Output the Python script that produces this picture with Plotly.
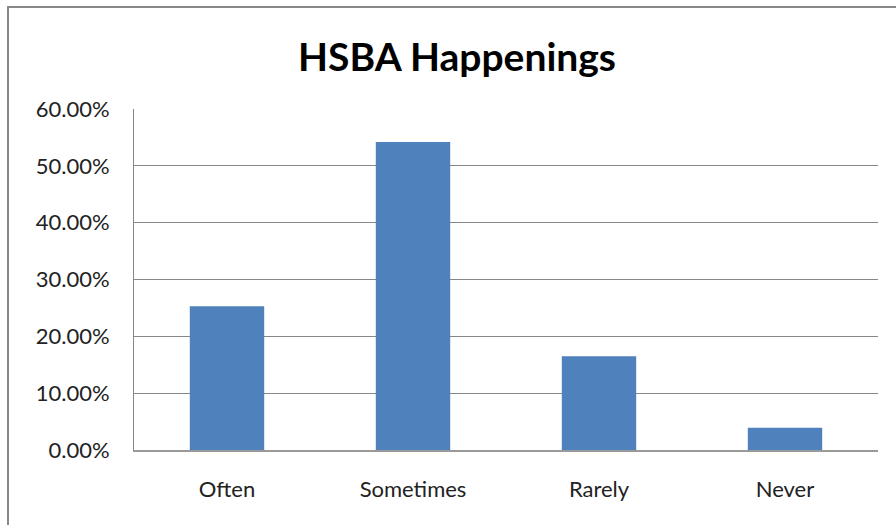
import plotly.graph_objects as go

categories = ["Often", "Sometimes", "Rarely", "Never"]
values = [0.253, 0.542, 0.165, 0.039]
tick_vals = [0, 0.1, 0.2, 0.3, 0.4, 0.5, 0.6]
tick_text = ["0.00%", "10.00%", "20.00%", "30.00%", "40.00%", "50.00%", "60.00%"]

fig = go.Figure(go.Bar(x=categories, y=values, marker_color="#4F81BD",
                       marker_line_width=0))

fig.update_layout(
    width=896, height=525,
    margin=dict(l=134, r=18, t=109, b=75),
    paper_bgcolor="white", plot_bgcolor="white",
    bargap=0.6,
    showlegend=False,
    font=dict(family="Lato, Open Sans, sans-serif", size=22, color="#222"),
    title=dict(text="<b>HSBA Happenings</b>", x=457/896, xref="container",
               xanchor="center",
               y=1 - 57/525, yref="container", yanchor="middle",
               font=dict(size=39, color="black", family="Lato, sans-serif")),
    shapes=[dict(type="rect", xref="paper", yref="paper",
                 x0=-126/744, x1=(910-134)/744, y0=-(540-450)/341, y1=(450-7)/341,
                 line=dict(color="#888", width=2))],
)
fig.update_xaxes(showline=True, linecolor="#999", linewidth=2, ticks="",
                 tickfont=dict(size=22, color="#222"), ticklabelstandoff=19)
fig.update_yaxes(range=[0, 0.6], tickvals=tick_vals, ticktext=tick_text,
                 showgrid=True, gridcolor="#888", gridwidth=1,
                 showline=True, linecolor="#888", linewidth=1,
                 ticks="", ticklabelstandoff=19,
                 zeroline=False, tickfont=dict(size=22, color="#222"))

fig.write_html("out.html", config={"displayModeBar": False},
               post_script="document.body.style.margin='0';")
